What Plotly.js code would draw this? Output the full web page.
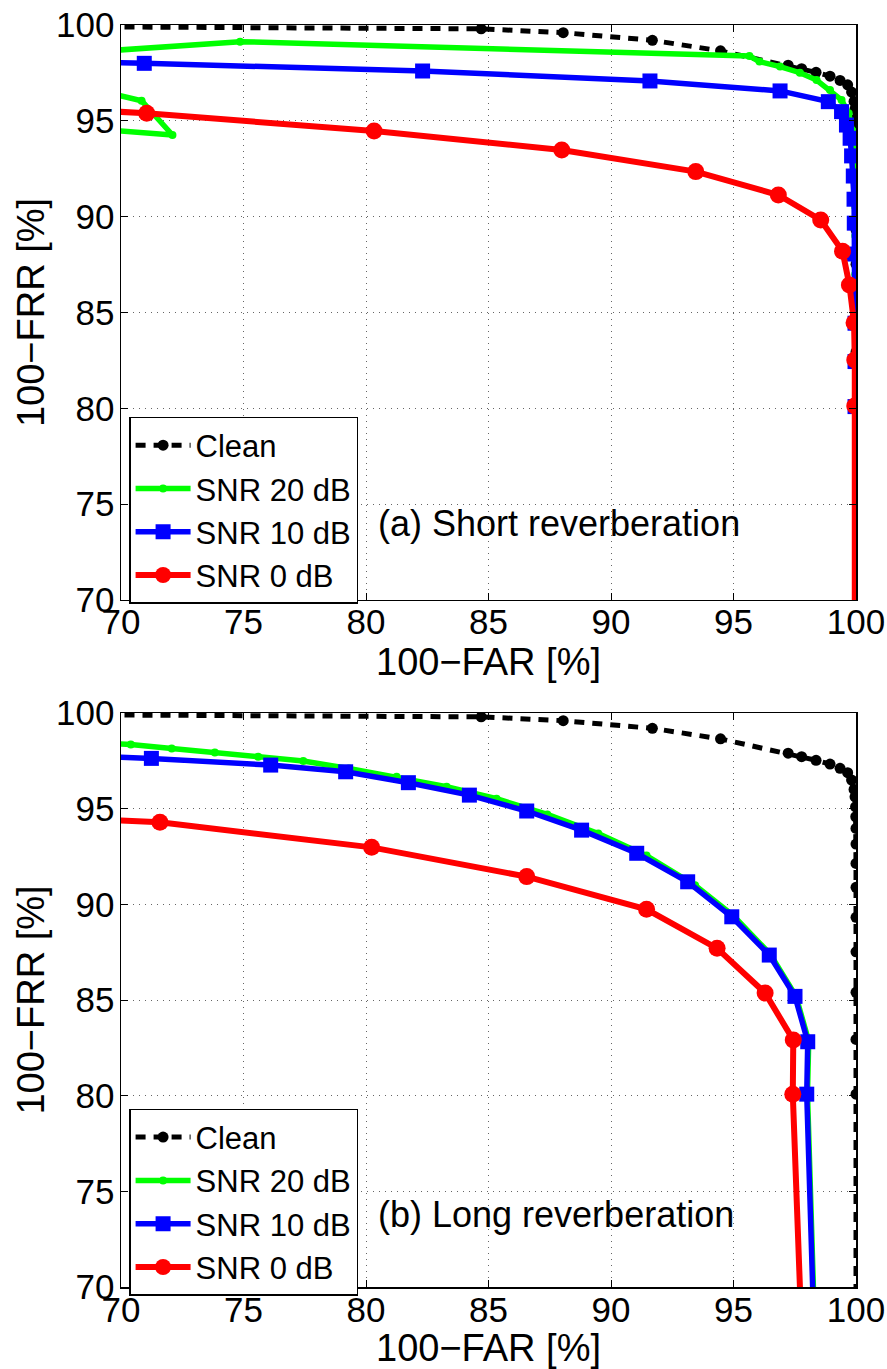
<!DOCTYPE html>
<html>
<head>
<meta charset="utf-8">
<script src="https://cdn.plot.ly/plotly-3.0.1.min.js"></script>
<style>html,body{margin:0;padding:0;background:#fff;}#chart{width:887px;height:1369px;}</style>
</head>
<body>
<div id="chart"></div>
<script>
// ---- Data ----
var seriesNames = ["Clean", "SNR 20 dB", "SNR 10 dB", "SNR 0 dB"];
var panelLabels = ["(a) Short reverberation", "(b) Long reverberation"];
var xTickVals = [70, 75, 80, 85, 90, 95, 100];
var yTickVals = [70, 75, 80, 85, 90, 95, 100];

// Clean (same curve in both panels)
var cleanFAR = [65, 84.7, 88.05, 91.69, 94.47, 97.23, 97.78, 98.37, 98.94, 99.35, 99.66, 99.82, 99.92, 99.96, 99.98, 99.99, 100, 100, 100, 100, 100, 100, 100, 100, 100, 100];
var cleanFRR = [99.93, 99.8, 99.6, 99.2, 98.65, 97.9, 97.72, 97.53, 97.33, 97.11, 96.88, 96.5, 96.01, 95.62, 95.1, 94.58, 93.97, 93.15, 92.14, 90.89, 89.32, 87.52, 85.4, 82.94, 80.08, 60];

// (a) Short reverberation
var shortSnr20FAR = [66, 72.1, 70.84, 66, 66, 74.86, 95.65, 96.06, 96.9, 97.71, 98.39, 98.94, 99.41, 99.7, 99.85, 99.93, 99.96, 99.97, 99.97, 99.97, 99.97, 99.97, 99.97, 99.97];
var shortSnr20FRR = [94.87, 94.26, 96.05, 97.5, 98.35, 99.13, 98.38, 98.09, 97.83, 97.51, 97.13, 96.61, 96.09, 95.4, 94.5, 93.3, 92.0, 90.5, 89.0, 87.0, 85.0, 82.5, 80.1, 60];
var shortSnr10FAR = [60, 70.95, 82.31, 91.59, 96.9, 98.87, 99.41, 99.61, 99.76, 99.82, 99.89, 99.92, 99.93, 99.94, 99.96, 99.96, 99.96, 99.96, 99.96];
var shortSnr10FRR = [98.3, 98.0, 97.6, 97.08, 96.56, 96.0, 95.48, 94.78, 94.09, 93.17, 92.12, 90.91, 89.66, 88.05, 86.44, 84.44, 82.44, 80.09, 60];
var shortSnr0FAR = [60, 71.05, 80.33, 87.99, 93.46, 96.83, 98.56, 99.45, 99.73, 99.92, 99.95, 99.95, 99.95];
var shortSnr0FRR = [96.2, 95.39, 94.47, 93.48, 92.35, 91.13, 89.83, 88.2, 86.44, 84.47, 82.52, 80.12, 60];

// (b) Long reverberation
var longSnr20FAR = [60, 70.4, 72.07, 73.83, 75.6, 77.44, 79.3, 81.25, 83.29, 85.33, 87.4, 89.48, 91.45, 93.43, 95.0, 96.5, 97.55, 98.07, 98.02, 98.5];
var longSnr20FRR = [99.0, 98.36, 98.15, 97.94, 97.72, 97.49, 97.1, 96.67, 96.15, 95.52, 94.7, 93.7, 92.55, 91.0, 89.4, 87.4, 85.2, 82.85, 80.1, 60];
var longSnr10FAR = [60, 71.24, 76.11, 79.17, 81.73, 84.22, 86.56, 88.8, 91.05, 93.13, 94.93, 96.46, 97.51, 98.03, 97.99, 98.47];
var longSnr10FRR = [98.2, 97.63, 97.28, 96.93, 96.36, 95.71, 94.88, 93.88, 92.67, 91.18, 89.35, 87.35, 85.19, 82.82, 80.08, 60];
var longSnr0FAR = [60, 71.59, 80.23, 86.56, 91.45, 94.33, 96.29, 97.44, 97.42, 98.0];
var longSnr0FRR = [95.0, 94.29, 92.98, 91.45, 89.74, 87.7, 85.37, 82.91, 80.08, 60];

// ---- Styles ----
var FONT = "Liberation Sans, Arial, Helvetica, sans-serif";
var styles = [
  {line: {color: "#000000", width: 5, dash: "10px,8px"}, marker: {symbol: "circle", size: 11, color: "#000000"}},
  {line: {color: "#00ff00", width: 5.5}, marker: {symbol: "circle", size: 8, color: "#00ff00"}},
  {line: {color: "#0000ff", width: 5.5}, marker: {symbol: "square", size: 15, color: "#0000ff"}},
  {line: {color: "#ff0000", width: 6}, marker: {symbol: "circle", size: 17, color: "#ff0000"}}
];

function mk(i, x, y, panel) {
  return {
    type: "scatter", mode: "lines+markers",
    x: x, y: y, name: seriesNames[i],
    xaxis: panel === 0 ? "x" : "x2",
    yaxis: panel === 0 ? "y" : "y2",
    legend: panel === 0 ? "legend" : "legend2",
    line: styles[i].line, marker: styles[i].marker,
    cliponaxis: true, hoverinfo: "x+y"
  };
}

var data = [
  mk(0, cleanFAR, cleanFRR, 0),
  mk(1, shortSnr20FAR, shortSnr20FRR, 0),
  mk(2, shortSnr10FAR, shortSnr10FRR, 0),
  mk(3, shortSnr0FAR, shortSnr0FRR, 0),
  mk(0, cleanFAR, cleanFRR, 1),
  mk(1, longSnr20FAR, longSnr20FRR, 1),
  mk(2, longSnr10FAR, longSnr10FRR, 1),
  mk(3, longSnr0FAR, longSnr0FRR, 1)
];

function xAx(anchor) {
  return {
    anchor: anchor, domain: [0, 1], range: [70, 100], tickvals: xTickVals,
    showline: true, linecolor: "#000", linewidth: 1.5, mirror: "ticks",
    ticks: "inside", ticklen: 7, tickcolor: "#000", tickwidth: 1,
    showgrid: true, gridcolor: "#666666", griddash: "1px,5px", gridwidth: 1,
    zeroline: false, tickfont: {family: FONT, size: 35, color: "#000"},
    ticklabelstandoff: -9,
    title: {text: "100\u2212FAR [%]", font: {family: FONT, size: 38, color: "#000"}, standoff: 0}
  };
}
function yAx(anchor, dom) {
  return {
    anchor: anchor, domain: dom, range: [70, 100], tickvals: yTickVals,
    showline: true, linecolor: "#000", linewidth: 1.5, mirror: "ticks",
    ticks: "inside", ticklen: 7, tickcolor: "#000", tickwidth: 1,
    showgrid: true, gridcolor: "#666666", griddash: "1px,5px", gridwidth: 1,
    zeroline: false, tickfont: {family: FONT, size: 35, color: "#000"},
    ticklabelstandoff: -2,
    title: {text: "100\u2212FRR [%]", font: {family: FONT, size: 38, color: "#000"}, standoff: 0}
  };
}

var legendBase = {
  bgcolor: "#ffffff", bordercolor: "#000", borderwidth: 1.5,
  font: {family: FONT, size: 31, color: "#000"},
  xanchor: "left", yanchor: "top", tracegroupgap: 0, itemwidth: 55
};

var layout = {
  width: 887, height: 1369,
  margin: {l: 121, r: 31, t: 25, b: 82},
  paper_bgcolor: "#fff", plot_bgcolor: "#fff",
  showlegend: true,
  font: {family: FONT, color: "#000"},
  xaxis: xAx("y"),
  yaxis: yAx("x", [0.5444, 1]),
  xaxis2: xAx("y2"),
  yaxis2: yAx("x2", [0, 0.4548]),
  legend: Object.assign({}, legendBase, {x: 0.011, y: 0.6894}),
  legend2: Object.assign({}, legendBase, {x: 0.011, y: 0.1411}),
  annotations: [
    {text: panelLabels[0], xref: "x", yref: "y", x: 80.4, y: 74.0, xanchor: "left", yanchor: "middle", showarrow: false,
     font: {family: FONT, size: 36, color: "#000"}},
    {text: panelLabels[1], xref: "x2", yref: "y2", x: 80.4, y: 73.8, xanchor: "left", yanchor: "middle", showarrow: false,
     font: {family: FONT, size: 36, color: "#000"}}
  ]
};

Plotly.newPlot("chart", data, layout, {staticPlot: true, displayModeBar: false});
</script>
</body>
</html>
